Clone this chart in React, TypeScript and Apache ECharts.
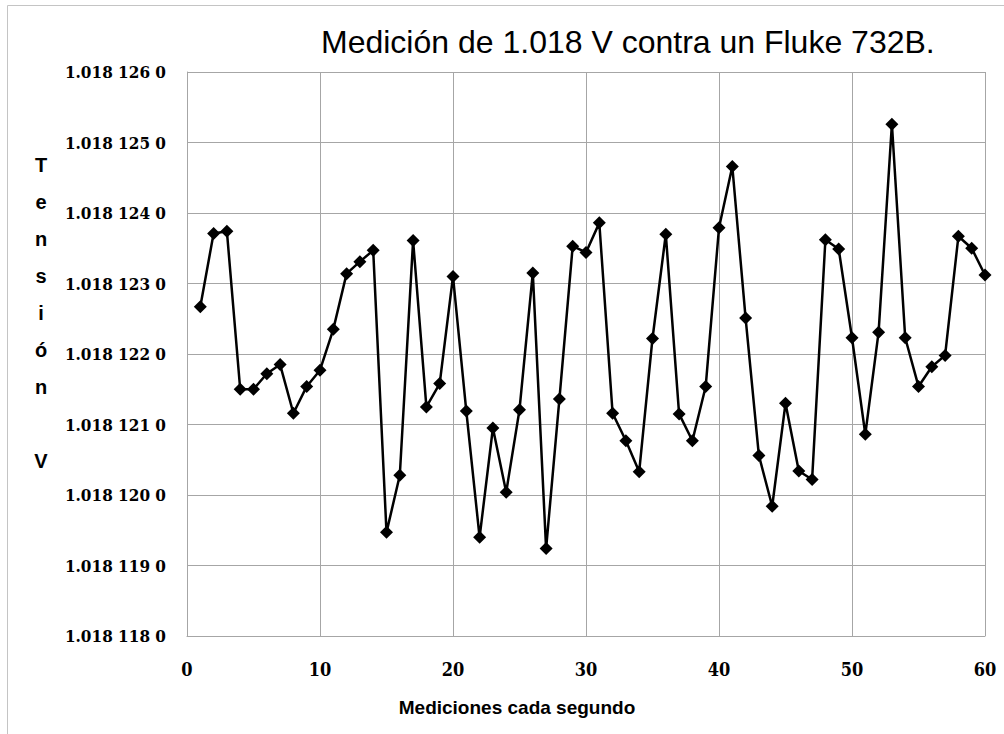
import React, { useEffect, useRef } from "react";
import * as echarts from "echarts";

const TITLE = "Medición de 1.018 V contra un Fluke 732B.";
const X_NAME = "Mediciones cada segundo";
const Y_NAME_LETTERS = ["T", "e", "n", "s", "i", "ó", "n", "", "V"];

const xMeasurements = [
  1, 2, 3, 4, 5, 6, 7, 8, 9, 10, 11, 12, 13, 14, 15, 16, 17, 18, 19, 20,
  21, 22, 23, 24, 25, 26, 27, 28, 29, 30, 31, 32, 33, 34, 35, 36, 37, 38, 39, 40,
  41, 42, 43, 44, 45, 46, 47, 48, 49, 50, 51, 52, 53, 54, 55, 56, 57, 58, 59, 60,
];

const voltages = [
  1.01812267, 1.01812371, 1.01812374, 1.0181215, 1.0181215, 1.01812172, 1.01812185, 1.01812116, 1.01812154, 1.01812177,
  1.01812235, 1.01812314, 1.01812331, 1.01812347, 1.01811947, 1.01812028, 1.01812361, 1.01812125, 1.01812158, 1.0181231,
  1.01812119, 1.0181194, 1.01812095, 1.01812004, 1.01812121, 1.01812315, 1.01811924, 1.01812136, 1.01812353, 1.01812344,
  1.01812386, 1.01812116, 1.01812077, 1.01812033, 1.01812222, 1.0181237, 1.01812115, 1.01812077, 1.01812154, 1.01812379,
  1.01812466, 1.01812251, 1.01812056, 1.01811984, 1.0181213, 1.01812034, 1.01812022, 1.01812362, 1.01812349, 1.01812223,
  1.01812086, 1.01812231, 1.01812526, 1.01812223, 1.01812154, 1.01812182, 1.01812198, 1.01812367, 1.0181235, 1.01812312,
];

const Y_MIN = 1.018118;
const Y_MAX = 1.018126;
const Y_STEP = 0.000001;
const X_MIN = 0;
const X_MAX = 60;
const X_STEP = 10;

function formatVolt(v: number): string {
  const s = v.toFixed(7);
  return s.slice(0, 5) + " " + s.slice(5, 8) + " " + s.slice(8);
}

export default function App() {
  const ref = useRef<HTMLDivElement>(null);

  useEffect(() => {
    if (!ref.current) return;
    const chart = echarts.init(ref.current, undefined, { renderer: "svg" });
    const serif = "DejaVu Serif Condensed, DejaVu Serif";
    const sans = "Liberation Sans";
    const gridColor = "#a6a6a6";

    chart.setOption({
      animation: false,
      backgroundColor: "#ffffff",
      title: {
        text: TITLE,
        left: 321,
        top: 26,
        padding: 0,
        textStyle: {
          fontFamily: sans,
          fontSize: 32,
          fontWeight: "normal",
          color: "#000000",
        },
      },
      graphic: [
        {
          type: "rect",
          shape: { x: 7.5, y: 5.5, width: 1100, height: 900 },
          style: { fill: "none", stroke: "#c4c4c4", lineWidth: 1 },
          silent: true,
          z: -1,
        },
        {
          type: "text",
          x: 41,
          y: 313,
          style: {
            text: Y_NAME_LETTERS.join("\n"),
            fontFamily: sans,
            fontSize: 20,
            fontWeight: "bold",
            lineHeight: 37,
            fill: "#000000",
            align: "center",
            verticalAlign: "middle",
          },
        },
        {
          type: "text",
          x: 517,
          y: 707,
          style: {
            text: X_NAME,
            fontFamily: sans,
            fontSize: 19,
            fontWeight: "bold",
            fill: "#000000",
            align: "center",
            verticalAlign: "middle",
          },
        },
      ],
      grid: {
        left: 187,
        top: 72,
        width: 798,
        height: 564,
        containLabel: false,
        outerBoundsMode: "none",
      },
      xAxis: {
        type: "value",
        min: X_MIN,
        max: X_MAX,
        interval: X_STEP,
        axisLine: { show: true, lineStyle: { color: gridColor, width: 1 } },
        axisTick: { show: false },
        axisLabel: {
          margin: 24,
          fontFamily: serif,
          fontSize: 18,
          fontWeight: "bold",
          color: "#000000",
        },
        splitLine: { show: true, lineStyle: { color: gridColor, width: 1 } },
      },
      yAxis: {
        type: "value",
        min: Y_MIN,
        max: Y_MAX,
        interval: Y_STEP,
        axisLine: { show: true, lineStyle: { color: gridColor, width: 1 } },
        axisTick: { show: false },
        axisLabel: {
          margin: 21,
          fontFamily: serif,
          fontSize: 17,
          fontWeight: "bold",
          color: "#000000",
          formatter: (v: number) => formatVolt(v),
        },
        splitLine: { show: true, lineStyle: { color: gridColor, width: 1 } },
      },
      series: [
        {
          type: "line",
          data: xMeasurements.map((x, i) => [x, voltages[i]]),
          symbol: "diamond",
          symbolSize: 13,
          showAllSymbol: true,
          lineStyle: { color: "#000000", width: 2.5 },
          itemStyle: { color: "#000000" },
        },
      ],
    });

    return () => chart.dispose();
  }, []);

  return (
    <div
      ref={ref}
      style={{ position: "absolute", left: 0, top: 0, width: 1004, height: 734 }}
    />
  );
}
